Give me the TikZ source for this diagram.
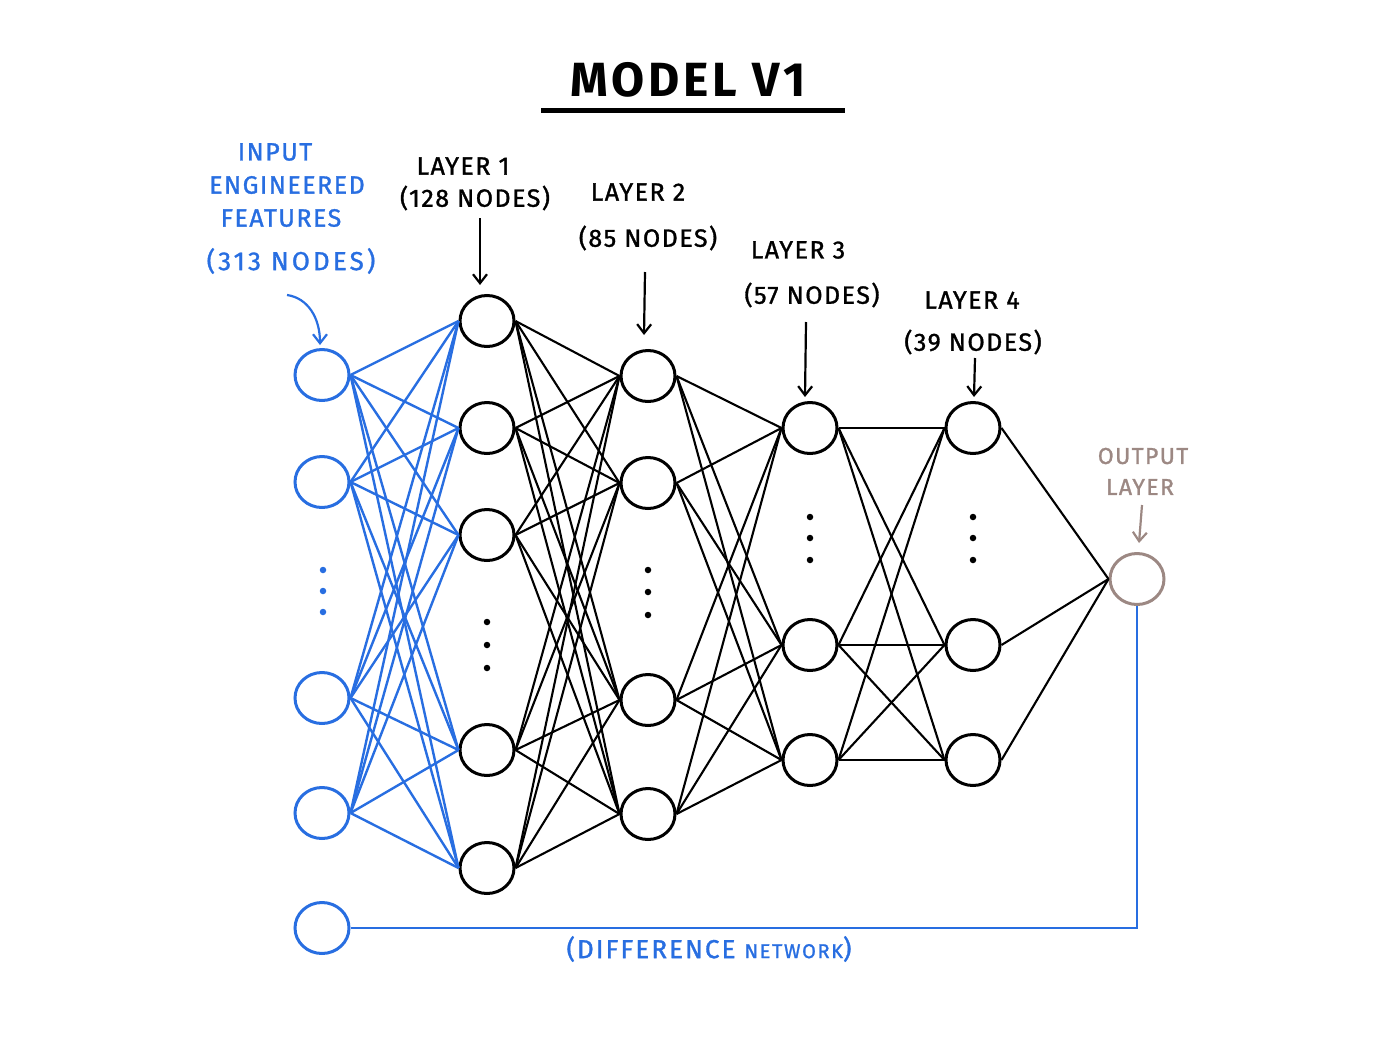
\documentclass[tikz,border=0pt]{standalone}
\usepackage{fontspec}
\setmainfont{Fira Sans}
\newfontfamily\hand[LetterSpace=6,FakeBold=1.2]{Fira Sans}
\newfontfamily\handbold[LetterSpace=8]{Fira Sans Bold}
\usetikzlibrary{shapes.geometric,arrows.meta}
\definecolor{inblue}{RGB}{40,110,225}
\definecolor{outgrey}{RGB}{156,136,131}
\begin{document}
\begin{tikzpicture}[x=1pt,y=-1pt,
  neuron/.style={ellipse, draw, line width=3pt, minimum width=54pt, minimum height=51pt, inner sep=0pt},
  inneuron/.style={neuron, draw=inblue},
  outneuron/.style={neuron, draw=outgrey},
  wire/.style={line width=2.1pt, black},
  inwire/.style={line width=2.4pt, inblue},
  dotmark/.style={circle, fill, inner sep=0pt, minimum size=6.5pt},
  lbl/.style={font=\hand\fontsize{25}{27}\selectfont, inner sep=0pt},
  pointer/.style={line width=2.2pt, -{Straight Barb[length=9pt,width=14pt,line width=2.2pt]}}
]
\useasboundingbox (0,0) rectangle (1400,1039);

% title
\node[font=\handbold\fontsize{48}{52}\selectfont, inner sep=0pt] (title) at (688,80) {MODEL V1};
\coordinate (ulA) at (541,110);
\coordinate (ulB) at (845,110);
\draw[line width=5pt] (ulA) -- (ulB);

% input layer
\node[inneuron] (i1) at (322,375) {};
\node[inneuron] (i2) at (322,482) {};
\node[inneuron] (i3) at (322,698) {};
\node[inneuron] (i4) at (322,813) {};
\node[inneuron] (i5) at (322,928) {};
% layer 1
\node[neuron] (a1) at (487,321) {};
\node[neuron] (a2) at (487,428) {};
\node[neuron] (a3) at (487,535) {};
\node[neuron] (a4) at (487,750) {};
\node[neuron] (a5) at (487,868) {};
% layer 2
\node[neuron] (b1) at (648,376) {};
\node[neuron] (b2) at (648,483) {};
\node[neuron] (b3) at (648,700) {};
\node[neuron] (b4) at (648,814) {};
% layer 3
\node[neuron] (c1) at (810,428) {};
\node[neuron] (c2) at (810,645) {};
\node[neuron] (c3) at (810,760) {};
% layer 4
\node[neuron] (d1) at (973,428) {};
\node[neuron] (d2) at (973,645) {};
\node[neuron] (d3) at (973,760) {};
% output
\node[outneuron] (o) at (1137,579) {};

% dots
\foreach \k/\y in {1/570,2/591,3/612} \node[dotmark, inblue] (idot\k) at (323,\y) {};
\foreach \k/\y in {1/622,2/645,3/668} \node[dotmark] (adot\k) at (487,\y) {};
\foreach \k/\y in {1/570,2/592,3/615} \node[dotmark] (bdot\k) at (648,\y) {};
\foreach \k/\y in {1/517,2/538,3/560} \node[dotmark] (cdot\k) at (810,\y) {};
\foreach \k/\y in {1/517,2/538,3/560} \node[dotmark] (ddot\k) at (973,\y) {};

% connections
\foreach \s in {i1,i2,i3,i4} \foreach \t in {a1,a2,a3,a4,a5} \draw[inwire] (\s.east) -- (\t.west);
\foreach \s in {a1,a2,a3,a4,a5} \foreach \t in {b1,b2,b3,b4} \draw[wire] (\s.east) -- (\t.west);
\foreach \s in {b1,b2,b3,b4} \foreach \t in {c1,c2,c3} \draw[wire] (\s.east) -- (\t.west);
\foreach \s in {c1,c2,c3} \foreach \t in {d1,d2,d3} \draw[wire] (\s.east) -- (\t.west);
\foreach \s in {d1,d2,d3} \draw[wire] (\s.east) -- (o.west);

% difference network
\draw[line width=2.8pt, inblue] (i5.east) -| (o.south);
\node[font=\hand\fontsize{26}{28}\selectfont\addfontfeatures{LetterSpace=8}, text=inblue, inner sep=0pt] (diff) at (709,949) {(DIFFERENCE {\fontsize{20}{22}\selectfont NETWORK})};

% input label
\node[lbl, text=inblue] (inA) at (275,152) {INPUT};
\node[lbl, text=inblue] (inB) at (287,185) {ENGINEERED};
\node[lbl, text=inblue] (inC) at (281,218) {FEATURES};
\node[lbl, text=inblue, font=\hand\fontsize{26}{28}\selectfont\addfontfeatures{LetterSpace=12}] (inD) at (291,261) {(313 NODES)};
\coordinate (inArrS) at (287,295);
\coordinate (inArrE) at (320,345);
\draw[pointer, inblue] (inArrS) .. controls (308,298) and (320,318) .. (inArrE);

% layer labels
\node[lbl] (l1A) at (463,166) {LAYER 1};
\node[lbl] (l1B) at (475,198) {(128 NODES)};
\coordinate (l1S) at (480,218);
\coordinate (l1E) at (480,285);
\draw[pointer] (l1S) -- (l1E);

\node[lbl] (l2A) at (638,192) {LAYER 2};
\node[lbl] (l2B) at (648,238) {(85 NODES)};
\coordinate (l2S) at (645,272);
\coordinate (l2E) at (644,335);
\draw[pointer] (l2S) -- (l2E);

\node[lbl] (l3A) at (798,250) {LAYER 3};
\node[lbl] (l3B) at (812,295) {(57 NODES)};
\coordinate (l3S) at (806,322);
\coordinate (l3E) at (805,397);
\draw[pointer] (l3S) -- (l3E);

\node[lbl] (l4A) at (972,300) {LAYER 4};
\node[lbl] (l4B) at (973,342) {(39 NODES)};
\coordinate (l4S) at (975,358);
\coordinate (l4E) at (974,397);
\draw[pointer] (l4S) -- (l4E);

% output label
\node[font=\hand\fontsize{23}{25}\selectfont, text=outgrey, inner sep=0pt] (outA) at (1143,456) {OUTPUT};
\node[font=\hand\fontsize{23}{25}\selectfont, text=outgrey, inner sep=0pt] (outB) at (1140,487) {LAYER};
\coordinate (oS) at (1142,505);
\coordinate (oE) at (1139,543);
\draw[pointer, outgrey] (oS) -- (oE);
\end{tikzpicture}
\end{document}
